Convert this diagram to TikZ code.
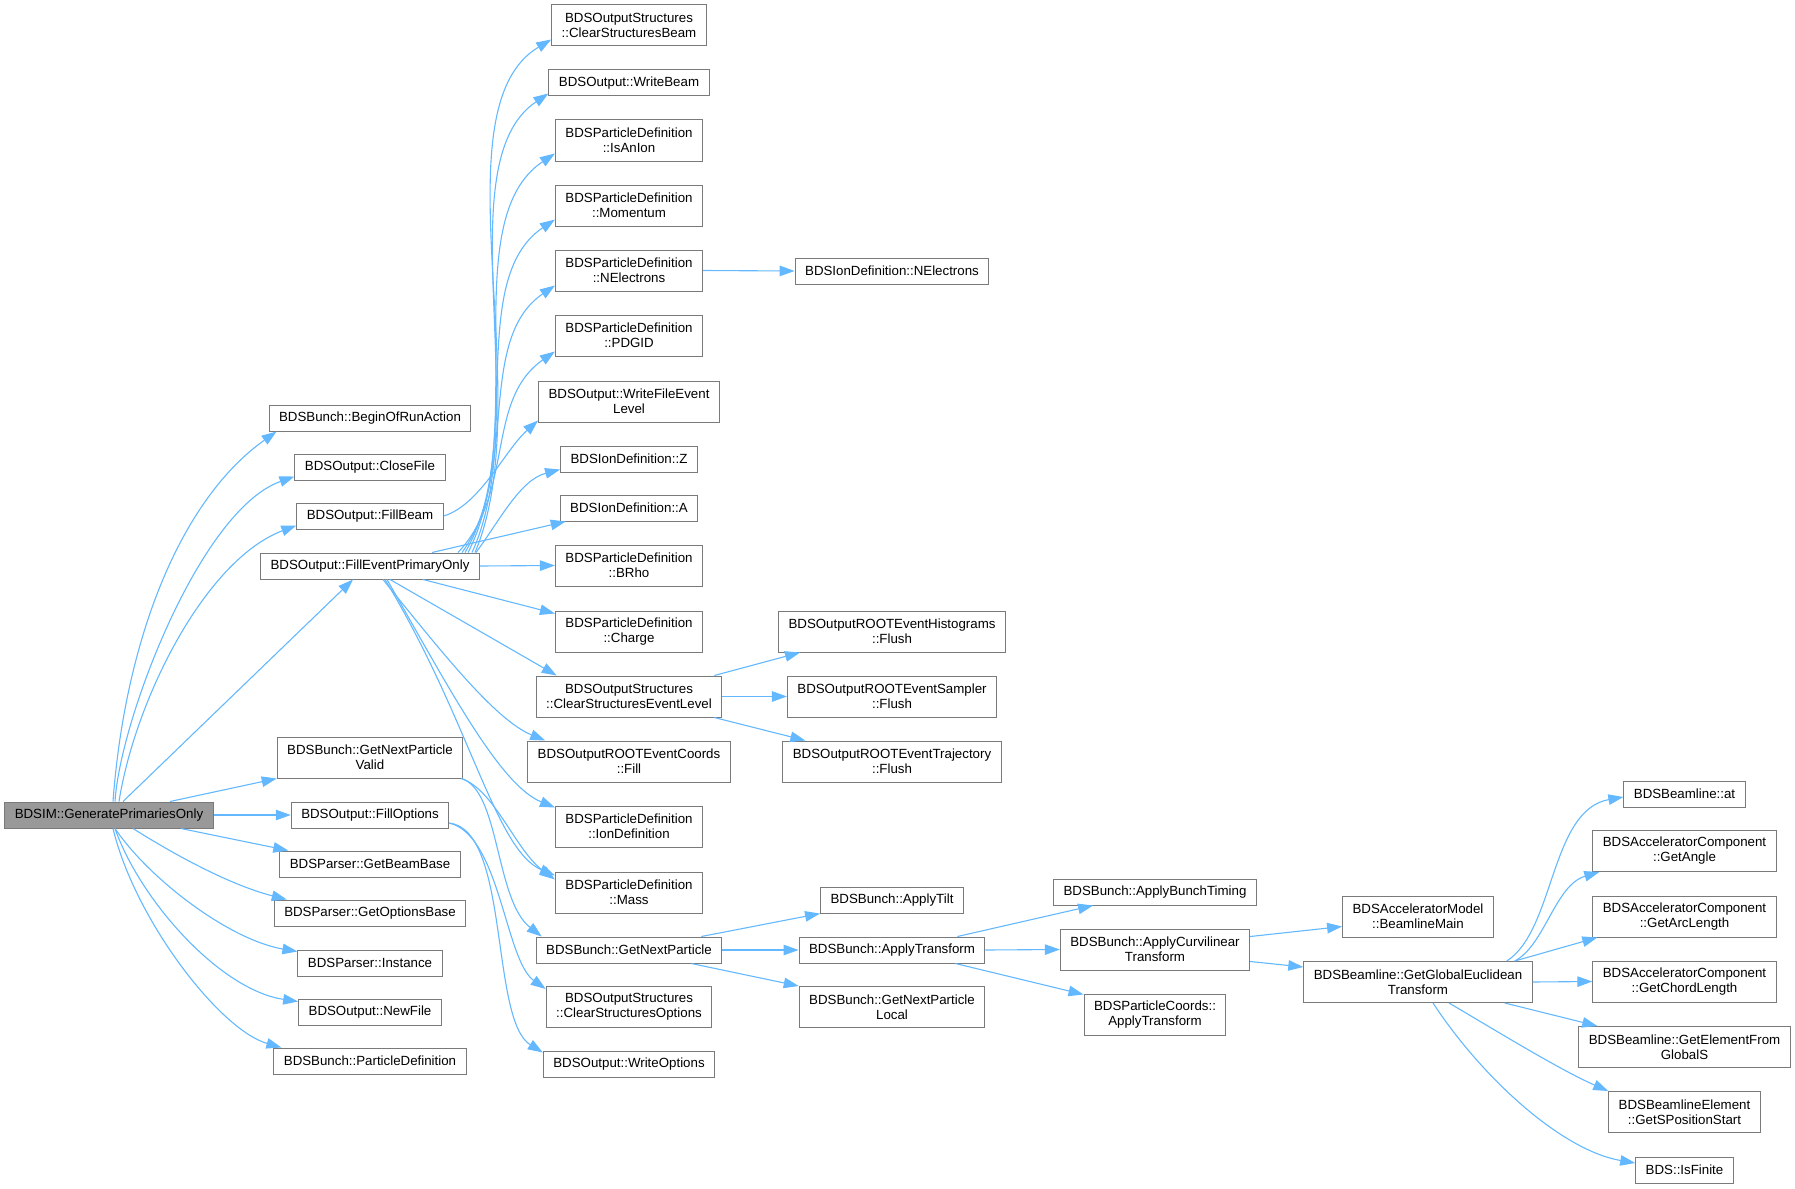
\documentclass[tikz,border=0pt]{standalone}
\usepackage{fontspec}
\setmainfont{Liberation Sans}
\usetikzlibrary{arrows.meta}
\definecolor{boxgray}{HTML}{7A7A7A}
\definecolor{selfgray}{HTML}{999999}
\definecolor{edgeblue}{HTML}{63B8FF}

\begin{document}
\begin{tikzpicture}[x=1pt,y=-1pt,
  fn/.style={draw=boxgray,fill=white,line width=1pt,inner xsep=10pt,inner ysep=4pt,
    minimum height=26pt,align=center,font=\fontsize{13.3}{15}\selectfont},
  fn2/.style={fn,minimum height=41pt},
  self/.style={fn,fill=selfgray},
  call/.style={draw=edgeblue,line width=1.1pt,-{Triangle[length=15pt,width=10.5pt]}}]

\useasboundingbox (0,0) rectangle (1795,1188);

\node[self] (g) at (109,815) {BDSIM::GeneratePrimariesOnly};

\node[fn] (bor) at (370,418) {BDSBunch::BeginOfRunAction};
\node[fn] (cf) at (370,467) {BDSOutput::CloseFile};
\node[fn] (fb) at (370,516) {BDSOutput::FillBeam};
\node[fn] (fe) at (370,566) {BDSOutput::FillEventPrimaryOnly};
\node[fn2] (gv) at (370,757.5) {BDSBunch::GetNextParticle\\Valid};
\node[fn] (fo) at (370,815) {BDSOutput::FillOptions};
\node[fn] (gbb) at (370,864) {BDSParser::GetBeamBase};
\node[fn] (gob) at (370,913) {BDSParser::GetOptionsBase};
\node[fn] (ins) at (370,963) {BDSParser::Instance};
\node[fn] (nf) at (370,1012) {BDSOutput::NewFile};
\node[fn] (pd) at (370,1061) {BDSBunch::ParticleDefinition};

\node[fn2] (csb) at (629,25.5) {BDSOutputStructures\\::ClearStructuresBeam};
\node[fn] (wb) at (629,83) {BDSOutput::WriteBeam};
\node[fn2] (ian) at (629,140.5) {BDSParticleDefinition\\::IsAnIon};
\node[fn2] (mom) at (629,205.5) {BDSParticleDefinition\\::Momentum};
\node[fn2] (nel) at (629,270.5) {BDSParticleDefinition\\::NElectrons};
\node[fn2] (pdg) at (629,335.5) {BDSParticleDefinition\\::PDGID};
\node[fn2] (wfel) at (629,401.5) {BDSOutput::WriteFileEvent\\Level};
\node[fn] (z) at (629,459) {BDSIonDefinition::Z};
\node[fn] (a) at (629,508) {BDSIonDefinition::A};
\node[fn2] (brho) at (629,565.5) {BDSParticleDefinition\\::BRho};
\node[fn2] (chg) at (629,631.5) {BDSParticleDefinition\\::Charge};
\node[fn2] (csel) at (629,696.5) {BDSOutputStructures\\::ClearStructuresEventLevel};
\node[fn2] (ecf) at (629,761.5) {BDSOutputROOTEventCoords\\::Fill};
\node[fn2] (idf) at (629,826.5) {BDSParticleDefinition\\::IonDefinition};
\node[fn2] (mass) at (629,892.5) {BDSParticleDefinition\\::Mass};
\node[fn] (gnp) at (629,950) {BDSBunch::GetNextParticle};
\node[fn2] (cso) at (629,1007) {BDSOutputStructures\\::ClearStructuresOptions};
\node[fn] (wo) at (629,1064) {BDSOutput::WriteOptions};

\node[fn] (inel) at (892,271) {BDSIonDefinition::NElectrons};
\node[fn2] (hist) at (892,631.5) {BDSOutputROOTEventHistograms\\::Flush};
\node[fn2] (samp) at (892,696.5) {BDSOutputROOTEventSampler\\::Flush};
\node[fn2] (traj) at (892,761.5) {BDSOutputROOTEventTrajectory\\::Flush};
\node[fn] (tilt) at (892,900) {BDSBunch::ApplyTilt};
\node[fn] (tr) at (892,950) {BDSBunch::ApplyTransform};
\node[fn2] (loc) at (892,1007) {BDSBunch::GetNextParticle\\Local};

\node[fn] (bt) at (1155,892) {BDSBunch::ApplyBunchTiming};
\node[fn2] (cur) at (1155,949.5) {BDSBunch::ApplyCurvilinear\\Transform};
\node[fn2] (pc) at (1155,1014.5) {BDSParticleCoords::\\ApplyTransform};

\node[fn2] (bm) at (1418,916.5) {BDSAcceleratorModel\\::BeamlineMain};
\node[fn2] (gget) at (1418,982) {BDSBeamline::GetGlobalEuclidean\\Transform};

\node[fn] (at) at (1684.5,794) {BDSBeamline::at};
\node[fn2] (ang) at (1684.5,851) {BDSAcceleratorComponent\\::GetAngle};
\node[fn2] (arc) at (1684.5,916.5) {BDSAcceleratorComponent\\::GetArcLength};
\node[fn2] (chord) at (1684.5,981.5) {BDSAcceleratorComponent\\::GetChordLength};
\node[fn2] (efg) at (1684.5,1047) {BDSBeamline::GetElementFrom\\GlobalS};
\node[fn2] (spos) at (1684.5,1112) {BDSBeamlineElement\\::GetSPositionStart};
\node[fn] (fin) at (1684.5,1170) {BDS::IsFinite};

\draw[call] ([xshift=4pt]g.north) .. controls (125,640) and (180,500) .. ([xshift=8pt]bor.south west);
\draw[call] ([xshift=6pt]g.north) .. controls (120,720) and (200,510) .. ([yshift=4pt]cf.south west);
\draw[call] ([xshift=10pt]g.north) .. controls (135,700) and (205,560) .. ([yshift=4pt]fb.south west);
\draw[call] ([xshift=14pt]g.north) -- ([xshift=-17pt]fe.south);
\draw[call] ([xshift=61pt]g.north) -- (gv.south west);
\draw[call] (g.east) -- (fo.west);
\draw[call] ([xshift=72pt]g.south) -- ([xshift=9pt]gbb.north west);
\draw[call] ([xshift=24pt]g.south) .. controls (175,855) and (230,885) .. ([xshift=13pt]gob.north west);
\draw[call] ([xshift=6pt]g.south) .. controls (150,880) and (230,940) .. ([yshift=-2pt]ins.north west);
\draw[call] ([xshift=6pt]g.south) .. controls (140,900) and (220,990) .. ([yshift=-3pt]nf.north west);
\draw[call] ([xshift=4pt]g.south) .. controls (135,920) and (220,1030) .. ([xshift=8pt]pd.north west);

\draw[call] (fb.east) .. controls (480,505) and (505,450) .. ([yshift=2pt]wfel.south west);
\draw[call] ([xshift=105pt]fe.north) .. controls (540,399) and (435,109) .. ([yshift=7pt]csb.south west);
\draw[call] ([xshift=102pt]fe.north) .. controls (535,415) and (445,163) .. ([yshift=3pt]wb.south west);
\draw[call] ([xshift=98pt]fe.north) .. controls (530,433) and (455,220) .. ([yshift=8pt]ian.south west);
\draw[call] ([xshift=95pt]fe.north) .. controls (525,453) and (465,280) .. ([yshift=7pt]mom.south west);
\draw[call] ([xshift=92pt]fe.north) .. controls (520,473) and (475,340) .. ([yshift=6pt]nel.south west);
\draw[call] ([xshift=88pt]fe.north) .. controls (515,492) and (485,400) .. ([yshift=5pt]pdg.south west);
\draw[call] ([xshift=106pt]fe.north) .. controls (500,520) and (520,480) .. ([yshift=3pt]z.south west);
\draw[call] ([xshift=62pt]fe.north) -- ([xshift=6pt]a.south west);
\draw[call] (fe.east) -- (brho.west);
\draw[call] ([xshift=53pt]fe.south) -- ([yshift=-3pt]chg.north west);
\draw[call] ([xshift=20pt]fe.south) -- ([xshift=21pt]csel.north west);
\draw[call] ([xshift=13pt]fe.south) .. controls (440,650) and (495,720) .. ([xshift=18pt]ecf.north west);
\draw[call] ([xshift=17pt]fe.south) .. controls (450,690) and (500,785) .. ([yshift=-2pt]idf.north west);
\draw[call] ([xshift=15pt]fe.south) .. controls (470,720) and (495,850) .. ([yshift=-4pt]mass.north west);
\draw[call] ([xshift=-2pt]gv.south east) .. controls (495,790) and (515,850) .. ([yshift=-8pt]mass.north west);
\draw[call] ([xshift=-2pt]gv.south east) .. controls (500,790) and (495,900) .. ([xshift=6pt]gnp.north west);
\draw[call] ([yshift=-8pt]fo.east) .. controls (500,835) and (505,960) .. ([yshift=-3pt]cso.north west);
\draw[call] ([yshift=-8pt]fo.east) .. controls (510,830) and (490,1020) .. ([yshift=-2pt]wo.north west);

\draw[call] (nel.east) -- (inel.west);
\draw[call] ([xshift=-8pt]csel.north east) -- ([xshift=22pt]hist.south west);
\draw[call] (csel.east) -- (samp.west);
\draw[call] ([xshift=-8pt]csel.south east) -- ([xshift=23pt]traj.north west);
\draw[call] ([xshift=-21pt]gnp.north east) -- (tilt.south west);
\draw[call] (gnp.east) -- (tr.west);
\draw[call] ([xshift=-31pt]gnp.south east) -- (loc.north west);

\draw[call] ([xshift=-28pt]tr.north east) -- ([xshift=40pt]bt.south west);
\draw[call] (tr.east) -- (cur.west);
\draw[call] ([xshift=-30pt]tr.south east) -- ([yshift=-1pt]pc.north west);
\draw[call] ([yshift=-8pt]cur.north east) -- ([yshift=-10pt]bm.west);
\draw[call] ([yshift=9pt]cur.south east) -- ([yshift=-6pt]gget.north west);

\draw[call] ([xshift=-26pt]gget.north east) .. controls (1555,930) and (1550,810) .. ([yshift=-3pt]at.west);
\draw[call] ([xshift=-18pt]gget.north east) .. controls (1545,945) and (1555,885) .. ([xshift=7pt]ang.south west);
\draw[call] ([xshift=-18pt]gget.north east) -- ([xshift=5pt]arc.south west);
\draw[call] (gget.east) -- (chord.west);
\draw[call] ([xshift=-28pt]gget.south east) -- ([xshift=19pt]efg.north west);
\draw[call] ([xshift=31pt]gget.south) .. controls (1495,1030) and (1560,1070) .. (spos.north west);
\draw[call] ([xshift=15pt]gget.south) .. controls (1480,1075) and (1560,1150) .. ([yshift=7pt]fin.west);

\end{tikzpicture}
\end{document}
